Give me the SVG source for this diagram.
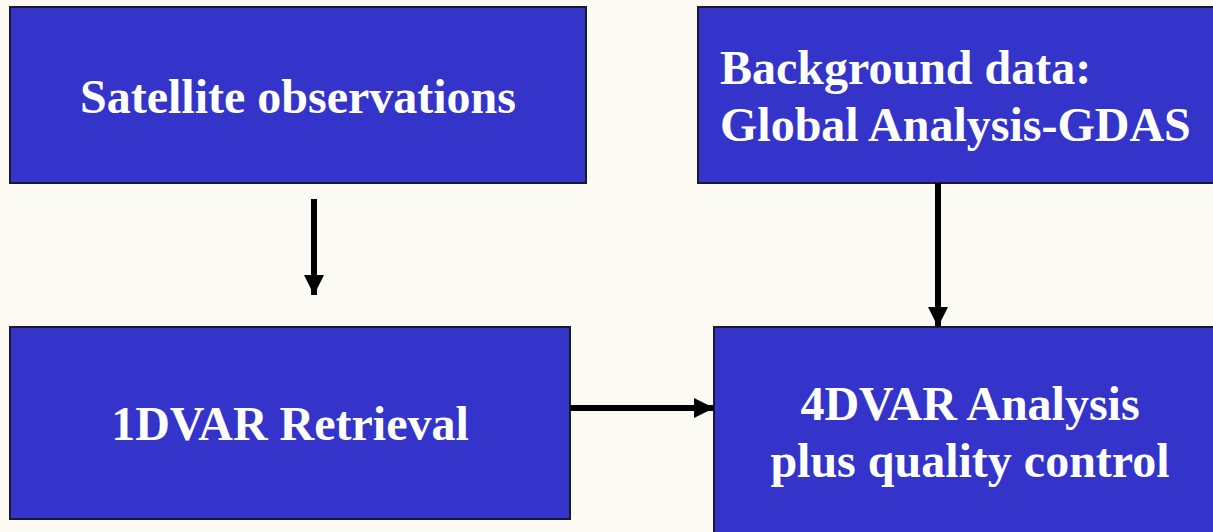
<svg xmlns="http://www.w3.org/2000/svg" width="1213" height="532" viewBox="0 0 1213 532">
<style>
.box{fill:#3434CB;stroke:#1a1a2a;stroke-width:2}
.t{font-family:"Liberation Serif","Times New Roman",serif;font-weight:bold;font-size:48px;fill:#ffffff}
.c{stroke:#000;stroke-width:6;fill:none}
</style>
<defs>
<marker id="ah" markerUnits="userSpaceOnUse" markerWidth="20" markerHeight="20" viewBox="0 0 20 20" refX="20" refY="10" orient="auto">
<path d="M0,0 L20,10 L0,20 Z" fill="#000"/>
</marker>
</defs>
<rect width="1213" height="532" fill="#FCFBF3"/>
<g id="sat">
<rect class="box" x="10" y="7" width="576" height="176"/>
<text class="t" x="298" y="113" text-anchor="middle">Satellite observations</text>
</g>
<g id="bg">
<rect class="box" x="698" y="7" width="530" height="176"/>
<text class="t" x="720" y="84">Background data:</text>
<text class="t" x="720" y="141">Global Analysis-GDAS</text>
</g>
<g id="ret">
<rect class="box" x="10" y="327" width="560" height="192"/>
<text class="t" x="290" y="440" text-anchor="middle">1DVAR Retrieval</text>
</g>
<g id="ana">
<rect class="box" x="714" y="327" width="520" height="220"/>
<text class="t" x="970" y="420" text-anchor="middle">4DVAR Analysis</text>
<text class="t" x="970" y="477" text-anchor="middle">plus quality control</text>
</g>
<g id="connectors">
<line class="c" x1="314" y1="199" x2="314" y2="295" marker-end="url(#ah)"/>
<line class="c" x1="570" y1="408" x2="714" y2="408" marker-end="url(#ah)"/>
<line class="c" x1="938" y1="183" x2="938" y2="327" marker-end="url(#ah)"/>
</g>
</svg>
